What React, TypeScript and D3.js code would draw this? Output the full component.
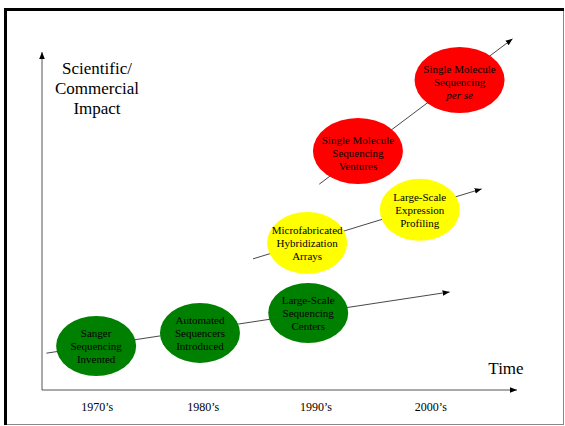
import React from "react";
import * as d3 from "d3";

const W = 565;
const H = 426;

// Tick labels along time axis (decade label and its position in years)
const decadeLabels = ["1970\u2019s", "1980\u2019s", "1990\u2019s", "2000\u2019s"];
const decadeYears = [1970.0, 1979.6, 1989.8, 2000.2];

// Milestones: label lines, year, impact, group
const milestoneLines = [
  ["Sanger", "Sequencing", "Invented"],
  ["Automated", "Sequencers", "Introduced"],
  ["Large-Scale", "Sequencing", "Centers"],
  ["Microfabricated", "Hybridization", "Arrays"],
  ["Large-Scale", "Expression", "Profiling"],
  ["Single Molecule", "Sequencing", "Ventures"],
  ["Single Molecule", "Sequencing", "per se"],
];
const milestoneYears = [1969.9, 1979.3, 1989.1, 1989.0, 1999.2, 1993.6, 2002.8];
const milestoneImpact = [13.0, 16.9, 22.8, 43.5, 53.3, 70.7, 91.7];
const milestoneGroup = [0, 0, 0, 1, 1, 2, 2];

// Trend arrows per group: start/end year and impact
const trendStartYear = [1965.4, 1984.1, 1990.1];
const trendStartImpact = [10.9, 38.8, 60.9];
const trendEndYear = [2001.9, 2004.8, 2007.6];
const trendEndImpact = [29.0, 59.5, 103.9];

const groupFill = ["#008000", "#ffff00", "#ff0000"];
const groupRx = [40, 40, 45];
const groupRy = [30, 31, 33];
const groupTextShift = [0, 0, 2];

const font = "Liberation Serif, Tinos, DejaVu Serif, Times New Roman, serif";

export default function App() {
  const x = d3.scaleLinear().domain([1965, 2008]).range([42, 517]);
  const y = d3.scaleLinear().domain([0, 100]).range([390, 52]);

  return (
    <svg
      width={W}
      height={H}
      style={{ position: "absolute", left: 0, top: 0, background: "#fff", fontFamily: font }}
    >
      <defs>
        <marker
          id="arr"
          viewBox="0 0 10 10"
          refX="10"
          refY="5"
          markerWidth="7"
          markerHeight="7"
          markerUnits="userSpaceOnUse"
          orient="auto"
        >
          <path d="M0,1 L10,5 L0,9 Z" fill="#000" />
        </marker>
      </defs>
      {/* frame */}
      <line x1={563.5} y1={9} x2={563.5} y2={425} stroke="#888" strokeWidth={1} />
      <line x1={5} y1={424.5} x2={564} y2={424.5} stroke="#888" strokeWidth={1} />
      <line x1={5.5} y1={8} x2={5.5} y2={425} stroke="#000" strokeWidth={3} />
      <line x1={4} y1={9.5} x2={564} y2={9.5} stroke="#000" strokeWidth={3} />

      {/* axes */}
      <line
        x1={x(1965)}
        y1={y(0)}
        x2={x(2008)}
        y2={y(0)}
        stroke="#555"
        strokeWidth={1}
        markerEnd="url(#arr)"
      />
      <line
        x1={x(1965)}
        y1={y(0)}
        x2={x(1965)}
        y2={y(100)}
        stroke="#555"
        strokeWidth={1}
        markerEnd="url(#arr)"
      />

      {/* trend arrows */}
      {trendStartYear.map((sy, i) => (
        <line
          key={"t" + i}
          x1={x(sy)}
          y1={y(trendStartImpact[i])}
          x2={x(trendEndYear[i])}
          y2={y(trendEndImpact[i])}
          stroke="#333"
          strokeWidth={0.9}
          markerEnd="url(#arr)"
        />
      ))}

      {/* milestones */}
      {milestoneLines.map((lines, i) => {
        const g = milestoneGroup[i];
        const cx = x(milestoneYears[i]);
        const cy = y(milestoneImpact[i]);
        return (
          <g key={"m" + i}>
            <ellipse cx={cx} cy={cy} rx={groupRx[g]} ry={groupRy[g]} fill={groupFill[g]} />
            {lines.map((t, j) => (
              <text
                key={j}
                x={cx}
                y={cy + (j - 1) * 13 + 4 + groupTextShift[g]}
                textAnchor="middle"
                style={{ fontFamily: font, fontSize: "11px", fontStyle: t === "per se" ? "italic" : "normal" }}
                fill="#000"
              >
                {t}
              </text>
            ))}
          </g>
        );
      })}

      {/* axis titles */}
      {["Scientific/", "Commercial", "Impact"].map((t, i) => (
        <text
          key={"yt" + i}
          x={97}
          y={74 + i * 20}
          textAnchor="middle"
          style={{ fontFamily: font, fontSize: "17px" }}
          fill="#000"
        >
          {t}
        </text>
      ))}
      <text x={506} y={374} textAnchor="middle" style={{ fontFamily: font, fontSize: "17px" }} fill="#000">
        Time
      </text>

      {/* decade ticks */}
      {decadeLabels.map((t, i) => (
        <text
          key={"d" + i}
          x={x(decadeYears[i])}
          y={411}
          textAnchor="middle"
          style={{ fontFamily: font, fontSize: "12px" }}
          fill="#000"
        >
          {t}
        </text>
      ))}
    </svg>
  );
}
